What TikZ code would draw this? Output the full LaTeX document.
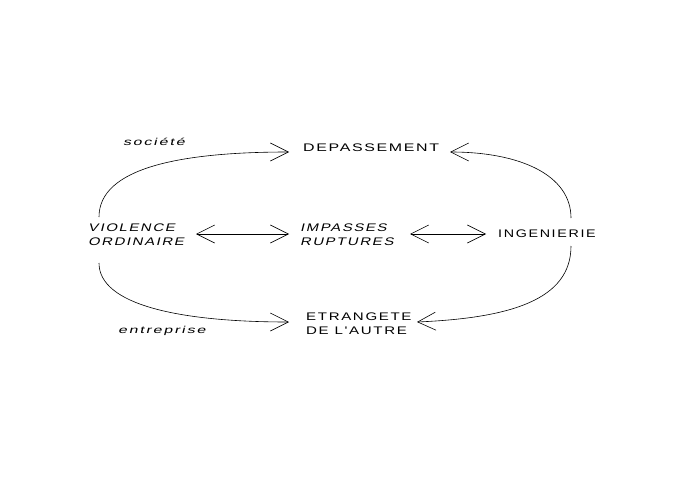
\documentclass[tikz,border=0pt]{standalone}
\usepackage{fontspec}
\usetikzlibrary{arrows.meta}
\newfontfamily\fa[FakeStretch=1.45,LetterSpace=15]{Liberation Sans}
\newfontfamily\fb[FakeStretch=1.37,LetterSpace=15]{Liberation Sans}
\newfontfamily\fc[FakeStretch=1.3,LetterSpace=15]{Liberation Sans}
\newfontfamily\fs[FakeStretch=1.35,LetterSpace=15,FakeSlant=0.25]{Liberation Sans}
\newfontfamily\fl[FakeStretch=1.6,LetterSpace=18,FakeSlant=0.25]{Liberation Sans}
\begin{document}
\begin{tikzpicture}[x=1pt,y=-1pt,
  lbl/.style={inner sep=0pt,align=left,anchor=west},
  arr/.style={line width=0.6pt,-{Straight Barb[length=18pt,width=18pt,line width=0.6pt]}},
  darr/.style={line width=0.6pt,{Straight Barb[length=18pt,width=18pt,line width=0.6pt]}-{Straight Barb[length=18pt,width=18pt,line width=0.6pt]}}]
\useasboundingbox (0,0) rectangle (695,500);
\node[lbl,font=\fa\fontsize{11}{14}\selectfont] (dep) at (303,148) {DEPASSEMENT};
\node[lbl,font=\fs\fontsize{11}{14}\selectfont] (vio) at (88,235) {VIOLENCE\\ORDINAIRE};
\node[lbl,font=\fs\fontsize{11}{14}\selectfont] (imp) at (300,235) {IMPASSES\\RUPTURES};
\node[lbl,font=\fc\fontsize{11}{14}\selectfont] (ing) at (498,234) {INGENIERIE};
\node[lbl,font=\fb\fontsize{11}{14}\selectfont] (etr) at (306,324) {ETRANGETE\\DE L'AUTRE};
\node[lbl,font=\fl\fontsize{10}{12}\selectfont] (soc) at (123,142) {société};
\node[lbl,font=\fl\fontsize{10}{12}\selectfont] (ent) at (118,331) {entreprise};
\coordinate (vioT) at (99,217);
\coordinate (vioB) at (99,263);
\coordinate (ingT) at (571,218);
\coordinate (ingB) at (571,246);
\coordinate (depL) at (289,152);
\coordinate (depR) at (450,152);
\coordinate (etrL) at (289,322);
\coordinate (etrR) at (417,322);
\coordinate (vioR) at (196,234);
\coordinate (impL) at (289,234);
\coordinate (impR) at (410,234);
\coordinate (ingL) at (486,234);
\draw[arr] (vioT) .. controls (99,168) and (180,152) .. (depL);
\draw[arr] (vioB) .. controls (99,305) and (180,322) .. (etrL);
\draw[arr] (ingT) .. controls (571,175) and (520,152) .. (depR);
\draw[arr] (ingB) .. controls (571,300) and (510,318) .. (etrR);
\draw[darr] (vioR) -- (impL);
\draw[darr] (impR) -- (ingL);
\end{tikzpicture}
\end{document}
